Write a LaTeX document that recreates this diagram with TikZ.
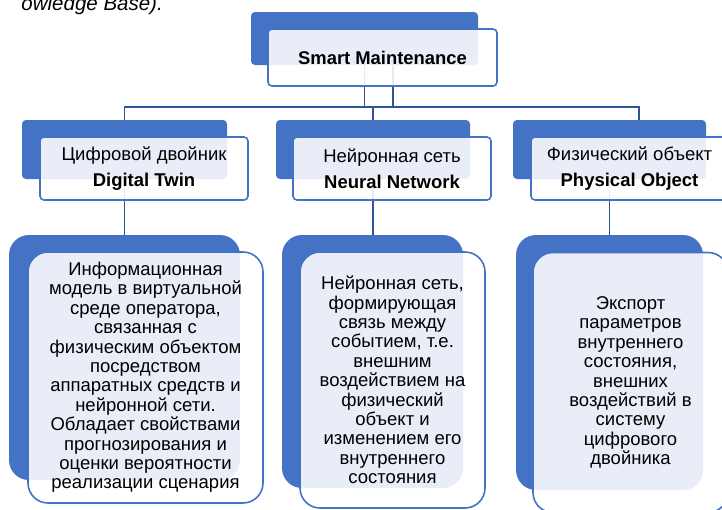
\documentclass[tikz,border=0pt]{standalone}
\usepackage{fontspec}
\setmainfont{Liberation Sans}
\usepackage{xcolor}
\usepackage{tikz}
\usetikzlibrary{positioning}

\definecolor{smblue}{HTML}{4472C4}
\definecolor{smline}{HTML}{2F5597}

\begin{document}
\begin{tikzpicture}[
    x=1pt, y=-1pt,
    bluebox/.style={
        rectangle,
        rounded corners=4pt,
        fill=smblue,
        inner sep=0pt
    },
    card/.style={
        rectangle,
        rounded corners=4pt,
        draw=smblue,
        line width=1.6pt,
        fill=white,
        fill opacity=0.88,
        text opacity=1,
        inner sep=0pt,
        align=center
    },
    headcard/.style={
        card,
        font=\fontsize{18.4}{22}\selectfont\bfseries
    },
    namecard/.style={
        card,
        font=\fontsize{18.5}{26}\selectfont
    },
    bigblue/.style={
        bluebox,
        rounded corners=20pt
    },
    textcard/.style={
        card,
        rounded corners=20pt,
        font=\fontsize{18.5}{19.4}\selectfont
    },
    link/.style={
        draw=smline,
        line width=1.6pt
    }
]

\useasboundingbox (0,0) rectangle (722,509);
\clip (0,0) rectangle (722,509);

% ---------------- cut caption ----------------

\node[anchor=base east, inner sep=0pt,
      font=\fontsize{20.5}{24}\selectfont\itshape] (cutnote)
    at (163,10) {owledge Base).};

% ---------------- blue backs ----------------

\node[bluebox, minimum width=227pt, minimum height=53pt] (topback)
    at (364.5,38.5) {};

\node[bluebox, minimum width=205pt, minimum height=59pt] (dtback)
    at (124.5,149.5) {};
\node[bluebox, minimum width=194pt, minimum height=59pt] (nnback)
    at (373,149.5) {};
\node[bluebox, minimum width=193pt, minimum height=59pt] (poback)
    at (609.5,149.5) {};

\node[bigblue, minimum width=231pt, minimum height=245pt] (dtlow)
    at (124.5,357.5) {};
\node[bigblue, minimum width=181pt, minimum height=253pt] (nnlow)
    at (372.5,361.5) {};
\node[bigblue, minimum width=187pt, minimum height=255pt] (polow)
    at (609.5,362.5) {};

% ---------------- connectors ----------------

\coordinate (busleft) at (124.5,107);
\coordinate (busright) at (639,107);

\draw[link] (dtback.north) -- (busleft) -- (busright)
    -- (busright |- poback.north);
\draw[link] (topback.south) -- (topback.south |- busleft);
\draw[link] ([xshift=28.5pt]topback.south)
    -- ([xshift=28.5pt]topback.south |- busleft);
\draw[link] (nnback.north) -- (nnback.north |- busleft);

\draw[link] (dtback.south) -- (dtback.south |- dtlow.north);
\draw[link] (nnback.south) -- (nnback.south |- nnlow.north);
\draw[link] (poback.south) -- (poback.south |- polow.north);

% ---------------- cards ----------------

\node[headcard, minimum width=229pt, minimum height=57pt] (top)
    at (382.5,57.5) {Smart Maintenance};

\node[namecard, minimum width=208pt, minimum height=63pt] (dt)
    at (144,168.5) {Цифровой двойник\\\textbf{Digital Twin}};
\node[namecard, minimum width=198pt, minimum height=63pt] (nn)
    at (392,168.5) {Нейронная сеть\\\textbf{Neural Network}};
\node[namecard, minimum width=197pt, minimum height=63pt] (po)
    at (629.5,168.5) {Физический объект\\\textbf{Physical Object}};

\node[textcard, minimum width=235pt, minimum height=251pt] (dttext)
    at (145.5,377.5)
    {Информационная\\модель в виртуальной\\среде оператора,\\
     связанная с\\физическим объектом\\посредством\\
     аппаратных средств и\\нейронной сети.\\Обладает свойствами\\
     прогнозирования и\\оценки вероятности\\реализации сценария};
\node[textcard, minimum width=185pt, minimum height=256pt] (nntext)
    at (392.5,380)
    {Нейронная сеть,\\формирующая\\связь между\\событием, т.е.\\
     внешним\\воздействием на\\физический\\объект и\\
     изменением его\\внутреннего\\состояния};
\node[textcard, minimum width=195pt, minimum height=260pt] (potext)
    at (630.5,382.5)
    {Экспорт\\параметров\\внутреннего\\состояния,\\внешних\\
     воздействий в\\систему\\цифрового\\двойника};

\end{tikzpicture}
\end{document}
